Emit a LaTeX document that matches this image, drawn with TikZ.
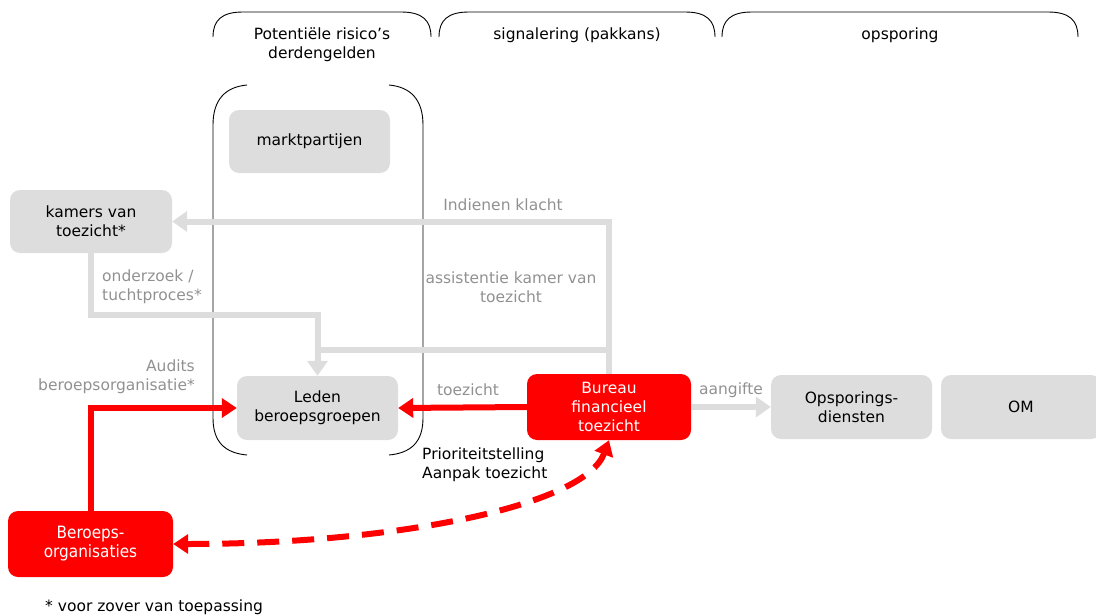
\documentclass[tikz,border=0pt]{standalone}
\usepackage{fontspec}
\setmainfont{DejaVu Sans}
\newfontfamily\condfont{DejaVu Sans Condensed}
\usetikzlibrary{arrows.meta}
\definecolor{boxgray}{RGB}{221,221,221}
\definecolor{linegray}{RGB}{221,221,221}
\definecolor{labelgray}{RGB}{145,145,145}
\definecolor{alertred}{RGB}{255,0,0}
\tikzset{
  base/.style={font=\fontsize{15.5}{19}\selectfont, align=center, inner sep=0pt},
  graybox/.style={base, rounded corners=10pt, fill=boxgray, text=black},
  redbox/.style={base, rounded corners=10pt, fill=alertred, text=white},
  graylabel/.style={base, text=labelgray},
  blacklabel/.style={base, text=black},
  grayline/.style={draw=linegray, line width=6pt},
  grayarrow/.style={grayline, -{Triangle[width=20pt,length=15pt]}},
  redarrow/.style={draw=alertred, line width=6pt, -{Triangle[width=19pt,length=15pt]}},
  reddash/.style={draw=alertred, line width=6pt, dash pattern=on 22pt off 13pt,
    {Triangle[width=19pt,length=15pt]}-{Triangle[width=19pt,length=15pt]}},
  bracket/.style={draw=black, line width=0.9pt}
}
\begin{document}
\begin{tikzpicture}[x=1pt,y=-1pt]
\useasboundingbox (0,0) rectangle (1096,616);

% column headers with their top brackets
\draw[bracket] (213,37) .. controls (213,20) and (222,12) .. (243,12) -- (401,12)
  .. controls (422,12) and (431,20) .. (431,37);
\draw[bracket] (439,37) .. controls (439,20) and (448,12) .. (469,12) -- (685,12)
  .. controls (706,12) and (715,20) .. (715,37);
\draw[bracket] (722,37) .. controls (722,20) and (731,12) .. (752,12) -- (1048,12)
  .. controls (1069,12) and (1078,20) .. (1078,37);
\node[blacklabel] (hdrA) at (322,45) {Potentiële risico’s\\derdengelden};
\node[blacklabel] (hdrB) at (577,35) {signalering (pakkans)};
\node[blacklabel] (hdrC) at (900,35) {opsporing};

% round brackets around the risk column
\draw[bracket] (247,85) .. controls (225,87) and (213,100) .. (213,125) -- (213,418)
  .. controls (213,442) and (225,453) .. (247,455);
\draw[bracket] (389,85) .. controls (411,87) and (423,100) .. (423,125) -- (423,418)
  .. controls (423,442) and (411,453) .. (389,455);

% boxes
\node[graybox, minimum width=161pt, minimum height=63pt] (markt) at (309.5,141.5) {marktpartijen};
\node[graybox, minimum width=162pt, minimum height=63pt] (kamers) at (91,221.5) {kamers van\\toezicht*};
\node[graybox, minimum width=161pt, minimum height=64pt] (leden) at (317.5,408) {Leden\\beroepsgroepen};
\node[redbox, minimum width=164pt, minimum height=66pt] (bureau) at (609,407) {Bureau\\financieel\\toezicht};
\node[graybox, minimum width=161pt, minimum height=64pt] (opsp) at (851.5,407) {Opsporings-\\diensten};
\node[graybox, minimum width=160pt, minimum height=64pt] (om) at (1021,407) {OM};
\node[redbox, minimum width=165pt, minimum height=66pt,
  font=\condfont\fontsize{17}{19}\selectfont] (bero) at (90.5,544) {Beroeps-\\organisaties};

% grey connectors
\draw[grayarrow] (bureau.north) |- (kamers.east);
\draw[grayarrow] (kamers.south) -- ++(0,62) -| (leden.north);
\coordinate (assist) at (bureau.north |- 0,350);
\draw[grayline] (assist) -- (leden.north |- assist);
\draw[grayarrow] (bureau.east) -- (opsp.west);

% red connectors
\draw[redarrow] (bureau.west) -- (leden.east);
\draw[redarrow] (bero.north) |- (leden.west);
\draw[reddash] (bero.east) .. controls (400,544) and (585,505) .. (bureau.south);

% connector labels
\node[graylabel] (lblKlacht) at (503,205) {Indienen klacht};
\node[graylabel, align=left, anchor=west] (lblOnderzoek) at (102,287) {onderzoek /\\tuchtproces*};
\node[graylabel] (lblAssist) at (511,287) {assistentie kamer van\\toezicht};
\node[graylabel, align=right, anchor=east] (lblAudits) at (195,377) {Audits\\beroepsorganisatie*};
\node[graylabel] (lblToezicht) at (468,390) {toezicht};
\node[graylabel] (lblAangifte) at (731,390) {aangifte};
\node[blacklabel, align=left, anchor=west] (lblPrio) at (422,465) {Prioriteitstelling\\Aanpak toezicht};

% footnote
\node[blacklabel, anchor=west] (note) at (45,607) {* voor zover van toepassing};
\end{tikzpicture}
\end{document}
